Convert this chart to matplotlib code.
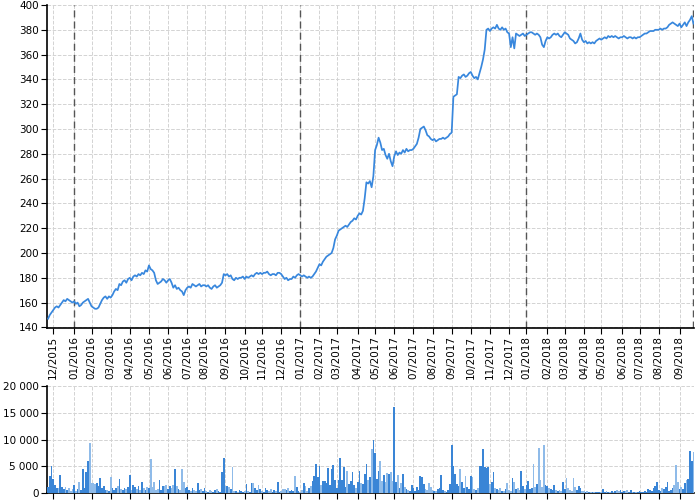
import matplotlib
matplotlib.use("Agg")
import matplotlib.pyplot as plt
from matplotlib.ticker import FuncFormatter, MultipleLocator
import numpy as np
import pandas as pd

# price sampled every second trading day, starting 2015-11-23
price = [
    147, 150, 152, 154, 156, 157, 156, 158, 160, 162,
    161, 163, 162, 161, 160, 161, 159, 160, 157, 158,
    160, 161, 162, 163, 160, 157, 156, 155, 155, 156,
    159, 162, 164, 165, 163, 165, 164, 166, 169, 171,
    170, 175, 174, 177, 178, 176, 179, 180, 178, 181,
    182, 181, 183, 182, 184, 183, 186, 185, 190, 187,
    186, 184, 178, 175, 176, 177, 179, 178, 176, 178,
    179, 176, 172, 174, 171, 172, 170, 169, 166, 170,
    172, 173, 172, 175, 174, 173, 174, 175, 173, 174,
    174, 173, 174, 172, 171, 173, 174, 172, 173, 174,
    176, 183, 182, 183, 181, 182, 179, 178, 180, 179,
    180, 180, 181, 179, 181, 180, 181, 182, 181, 183,
    184, 183, 184, 183, 184, 184, 185, 183, 182, 183,
    183, 182, 184, 184, 183, 181, 179, 180, 178, 179,
    179, 181, 180, 182, 183, 182, 181, 182, 181, 180,
    181, 180, 181, 183, 185, 188, 191, 190, 193, 195,
    197, 198, 199, 200, 204, 211, 214, 218, 219, 220,
    221, 222, 221, 223, 225, 226, 228, 227, 230, 232,
    231, 234, 244, 257, 256, 258, 253, 262, 283, 287,
    293, 289, 283, 284, 279, 276, 280, 274, 270, 278,
    282, 279, 281, 280, 283, 281, 284, 282, 283, 283,
    284, 286, 288, 293, 300, 301, 302, 299, 295, 294,
    292, 291, 292, 290, 291, 292, 292, 293, 292, 293,
    294, 296, 297, 326, 327, 328, 342, 341, 343, 344,
    342, 343, 345, 346, 343, 341, 342, 340, 345, 350,
    356, 364, 380, 381, 379, 381, 382, 381, 384, 381,
    380, 382, 380, 381, 378, 377, 366, 374, 365, 377,
    376, 375, 376, 377, 375, 376, 377, 378, 378, 377,
    376, 377, 376, 374, 368, 366, 371, 374, 373, 374,
    376, 377, 376, 377, 375, 374, 376, 378, 377, 376,
    373, 372, 371, 369, 370, 373, 377, 372, 370, 371,
    369, 370, 369, 370, 369, 371, 372, 373, 372, 373,
    374, 373, 375, 374, 375, 374, 375, 374, 373, 374,
    374, 375, 374, 373, 374, 374, 373, 374, 373, 374,
    374, 375, 376, 377, 377, 378, 379, 379, 379, 380,
    380, 380, 381, 380, 381, 381, 382, 384, 385, 386,
    385, 384, 383, 385, 382, 384, 386, 383, 386, 388,
    391, 385,
]

volume = [
    1200, 3200, 5000, 2600, 1500, 900, 1000, 3300, 1200, 800,
    1100, 600, 1000, 400, 700, 1500, 300, 800, 2000, 600,
    4400, 1000, 4000, 6000, 9300, 1800, 1800, 1600, 1800, 1400,
    2800, 900, 1300, 600, 500, 400, 3000, 1000, 600, 1000,
    1400, 2600, 800, 500, 1000, 700, 1200, 3400, 600, 1500,
    1200, 800, 1300, 600, 2000, 1000, 500, 1100, 900, 6300,
    1200, 2000, 600, 800, 2500, 500, 1400, 1300, 1500, 800,
    1400, 900, 1500, 4400, 1300, 700, 600, 4400, 2000, 1000,
    1200, 600, 400, 900, 500, 300, 1800, 500, 700, 300,
    1000, 400, 200, 600, 300, 200, 500, 800, 300, 200,
    3900, 6500, 1400, 1400, 1200, 800, 4900, 400, 300, 200,
    500, 300, 200, 400, 1600, 300, 200, 1900, 1800, 1000,
    500, 1500, 700, 300, 200, 900, 600, 300, 800, 200,
    500, 300, 2000, 200, 300, 800, 700, 500, 1000, 400,
    600, 300, 3200, 1200, 300, 200, 600, 1800, 1300, 300,
    1000, 1300, 2300, 3200, 5400, 3000, 5000, 1500, 2300, 2200,
    1800, 4600, 1500, 4400, 5300, 2400, 1000, 2500, 6500, 2400,
    4800, 1200, 4200, 1700, 2300, 3900, 1500, 1000, 2000, 4200,
    1900, 1600, 3600, 5400, 2500, 3000, 8300, 10000, 7500, 2700,
    4200, 6000, 2200, 3400, 2000, 3800, 3500, 4000, 2300, 16000,
    2000, 3300, 1000, 1800, 3500, 1200, 700, 600, 400, 1500,
    900, 300, 1100, 600, 3200, 2900, 1600, 800, 500, 1800,
    1200, 600, 400, 300, 700, 1000, 3400, 500, 300, 200,
    600, 1600, 9000, 5000, 3500, 1700, 1300, 4400, 2000, 1000,
    3200, 1200, 700, 3200, 3000, 800, 500, 1000, 5000, 5000,
    8300, 4800, 4700, 4900, 1700, 2000, 4000, 1000, 800, 600,
    1000, 400, 300, 800, 1800, 600, 400, 2800, 2000, 700,
    1000, 500, 4200, 1300, 800, 1500, 2200, 700, 1000, 5500,
    1200, 1600, 8400, 2500, 1200, 8900, 1500, 1400, 900, 700,
    500, 1500, 600, 300, 500, 400, 2000, 700, 2800, 1000,
    600, 400, 2800, 1200, 500, 1400, 1000, 300, 400, 200,
    300, 200, 100, 200, 100, 200, 150, 100, 200, 700,
    200, 300, 200, 150, 300, 200, 400, 600, 300, 500,
    200, 400, 300, 600, 200, 500, 100, 100, 200, 100,
    300, 200, 100, 300, 200, 700, 500, 300, 900, 1300,
    2000, 600, 300, 1000, 800, 1200, 2000, 400, 600, 1000,
    1500, 5300, 2100, 800, 1200, 700, 1800, 2500, 2600, 7800,
    6000, 7700,
]

start_date = "2015-11-23"
dates = pd.bdate_range(start_date, periods=2 * len(price))[::2]
idx = np.arange(len(price))

# month ticks at the first sample of each month
months = dates.to_period("M")
tick_pos = [i for i in idx[1:] if months[i] != months[i - 1]]
tick_lab = [dates[i].strftime("%m/%Y") for i in tick_pos]
year_pos = [i for i in tick_pos if dates[i].month == 1]

line_color = "#3887dd"
dark_bar = "#3a85d6"
light_bar = "#8fbbe9"
grid_kw = dict(color="#d3d3d3", linestyle="--", linewidth=0.7)

fig = plt.figure(figsize=(7, 5), dpi=100)
ax = fig.add_axes([47 / 700, 1 - 328 / 500, (694 - 47) / 700, (328 - 5) / 500])
ax2 = fig.add_axes([47 / 700, 1 - 493 / 500, (694 - 47) / 700, (493 - 386) / 500])

ax.plot(idx, price, color=line_color, linewidth=1.25, zorder=3)
ax.set_ylim(139.5, 400)
ax.set_xlim(-0.6, len(price) - 0.7)
ax.yaxis.set_major_locator(MultipleLocator(20))
ax.set_xticks(tick_pos)
ax.set_xticklabels(tick_lab, rotation=90)
ax.grid(True, **grid_kw)
ax.set_axisbelow(True)
for p in year_pos + [len(price) - 1]:
    ax.axvline(p, color="#555555", linestyle=(0, (5, 3)), linewidth=1.0, zorder=2)

up = [True] + [price[i] >= price[i - 1] for i in range(1, len(price))]
cols = [dark_bar if u else light_bar for u in up]
ax2.bar(idx, volume, width=1.0, color=cols, linewidth=0, zorder=3)
ax2.set_ylim(0, 20000)
ax2.set_xlim(ax.get_xlim())
ax2.yaxis.set_major_locator(MultipleLocator(5000))
ax2.yaxis.set_major_formatter(FuncFormatter(lambda v, p: f"{int(v):,}".replace(",", " ")))
ax2.set_xticks(tick_pos)
ax2.tick_params(axis="x", length=0, labelbottom=False)
ax2.grid(True, **grid_kw)
ax2.set_axisbelow(True)

for a in (ax, ax2):
    a.spines["top"].set_visible(False)
    a.spines["right"].set_visible(False)
    a.spines["left"].set_linewidth(1.2)
    a.spines["bottom"].set_linewidth(1.2)
    a.tick_params(labelsize=7.5, length=4, width=0.8, pad=2)

fig.savefig("out.png", dpi=100)
